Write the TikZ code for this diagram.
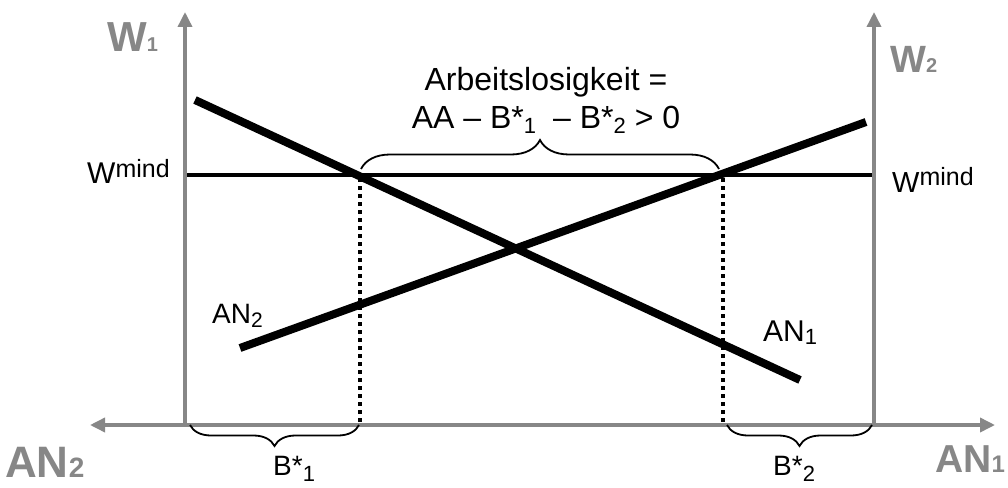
\documentclass[tikz,border=0pt]{standalone}
\usepackage{fontspec}
\setmainfont{Liberation Sans}
\usetikzlibrary{arrows.meta,decorations.pathreplacing,calc}
\definecolor{axgray}{HTML}{878787}
\newcommand{\fsz}[1]{\fontsize{#1}{#1}\selectfont}
\begin{document}
\begin{tikzpicture}[x=1pt,y=-1pt,
  axisline/.style={draw=axgray, line width=3.5pt},
  axisarrow/.style={axisline, -{Triangle[length=15pt,width=14pt]}},
  curve/.style={line width=8pt},
  minline/.style={line width=3.2pt},
  dotline/.style={line width=3.5pt, dash pattern=on 4pt off 4pt},
  brc/.style={decorate, decoration={brace, amplitude=#1}, line width=1.8pt},
  lbl/.style={inner sep=0pt, anchor=base west},
  mid/.style={inner sep=0pt, anchor=base}]
\useasboundingbox (0,0) rectangle (1008,487);

% axes
\coordinate (o1) at (185,425);
\coordinate (o2) at (874,425);
\coordinate (t1) at (185,12);
\coordinate (t2) at (874,12);
\coordinate (hl) at (90,425);
\coordinate (hr) at (995,425);
\draw[axisline, {Triangle[length=15pt,width=14pt]}-{Triangle[length=15pt,width=14pt]}] (hl) -- (hr);
\draw[axisarrow] (o1) -- (t1);
\draw[axisarrow] (o2) -- (t2);

% minimum wage line
\coordinate (m1) at (187,175);
\coordinate (m2) at (872,175);
\draw[minline] (m1) -- (m2);

% demand lines
\coordinate (a1s) at (195,100);
\coordinate (a1e) at (800,380);
\coordinate (a2s) at (240,348);
\coordinate (a2e) at (866,122);
\draw[curve] (a1s) -- (a1e);
\draw[curve] (a2s) -- (a2e);

% dotted verticals
\coordinate (d1t) at (360,178);
\coordinate (d1b) at (360,423);
\coordinate (d2t) at (723,178);
\coordinate (d2b) at (723,423);
\draw[dotline] (d1t) -- (d1b);
\draw[dotline] (d2t) -- (d2b);

% braces
\coordinate (b1l) at (190,425);
\coordinate (b1r) at (359,425);
\coordinate (b2l) at (727,425);
\coordinate (b2r) at (872,425);
\coordinate (tbl) at (361,169);
\coordinate (tbr) at (719,169);
\draw[brc=21pt] (b1r) -- (b1l);
\draw[brc=21pt] (b2r) -- (b2l);
\draw[brc=29pt] (tbl) -- (tbr);

% axis labels
\node[lbl, text=axgray, font=\bfseries] (w1) at (107,52) {\fsz{42}W\fsz{20}1};
\node[lbl, text=axgray, font=\bfseries] (w2) at (890,72) {\fsz{38}W\fsz{20}2};
\node[lbl, text=axgray, font=\bfseries] (an2ax) at (5,477) {\fsz{44}AN\fsz{28}2};
\node[lbl, text=axgray, font=\bfseries] (an1ax) at (935,472) {\fsz{39}AN\fsz{24}1};

% wmind labels
\node[lbl] (wml) at (87,183) {\fsz{30}W\raisebox{6pt}{\fsz{25}mind}};
\node[lbl] (wmr) at (892,192) {\fsz{29}W\raisebox{7pt}{\fsz{25}mind}};

% line labels
\node[lbl] (an2l) at (212,323) {\fsz{28}AN\raisebox{-4pt}{\fsz{21}2}};
\node[lbl] (an1l) at (763,341) {\fsz{30}AN\raisebox{-3pt}{\fsz{22}1}};

% top text
\node[mid] (al1) at (546,90) {\fsz{32}Arbeitslosigkeit =};
\node[mid] (al2) at (546,128) {\fsz{32}AA – B*\raisebox{-5pt}{\fsz{22}1}\hspace{17pt}– B*\raisebox{-5pt}{\fsz{22}2} > 0};

% brace labels
\node[lbl] (bl1) at (273,475) {\fsz{28}B*\raisebox{-6pt}{\fsz{22}1}};
\node[lbl] (bl2) at (773,475) {\fsz{28}B*\raisebox{-6pt}{\fsz{22}2}};
\end{tikzpicture}
\end{document}
